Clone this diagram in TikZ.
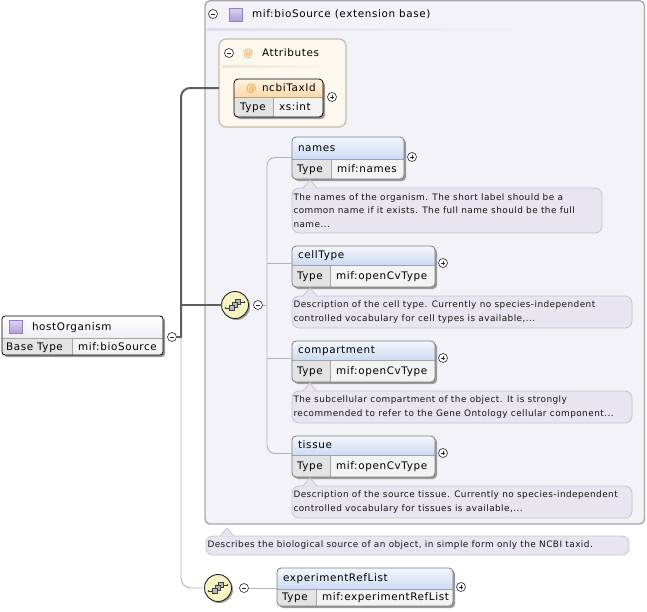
\documentclass[tikz,border=0pt]{standalone}
\usepackage{fontspec}
\setmainfont{DejaVu Sans}
\newfontfamily\uifont{DejaVu Sans}[LetterSpace=6]
\newfontfamily\docfont{DejaVu Sans}[LetterSpace=5]
\usetikzlibrary{fit}

\definecolor{outerfill}{HTML}{F3F2F8}
\definecolor{outerline}{HTML}{A8A8A8}
\definecolor{attrfill}{HTML}{FDF8EE}
\definecolor{attrline}{HTML}{C4BCAE}
\definecolor{hdtop}{HTML}{F4F7FD}
\definecolor{hdbot}{HTML}{CCDBF2}
\definecolor{athdtop}{HTML}{FFF3E2}
\definecolor{athdbot}{HTML}{FCD9A9}
\definecolor{typecell}{HTML}{E3E3E3}
\definecolor{valcell}{HTML}{F3F3F3}
\definecolor{elline}{HTML}{7C7C7C}
\definecolor{shadowc}{HTML}{9A9A9A}
\definecolor{docfill}{HTML}{E8E5F0}
\definecolor{docline}{HTML}{C6C2D4}
\definecolor{seqfill}{HTML}{F8F3C2}
\definecolor{treec}{HTML}{B2B2B2}
\definecolor{trunkc}{HTML}{5E5E5E}
\definecolor{atc}{HTML}{E99A2C}
\definecolor{icontop}{HTML}{DCD3F1}
\definecolor{iconbot}{HTML}{AE9FD8}
\definecolor{iconline}{HTML}{8F80C2}
\definecolor{sepc}{HTML}{E0DEEA}
\definecolor{attrsepc}{HTML}{F0E4CE}
\definecolor{hosthd}{HTML}{EEEDF5}

\tikzset{
  every node/.style={inner sep=0pt, outer sep=0pt},
  txt/.style={anchor=west, font=\uifont\fontsize{10.4}{12}\selectfont, text height=7.5pt, text depth=1.5pt},
  doctxt/.style={anchor=west, align=left, font=\docfont\fontsize{8.9}{13.7}\selectfont, text=black!92},
  elframe/.style={draw=elline, line width=0.8pt, rounded corners=4pt},
  blkframe/.style={draw=black, line width=0.8pt, rounded corners=4pt},
  cellline/.style={draw=elline!70, line width=0.6pt},
  expander/.style={circle, draw=black!85, fill=white, line width=0.6pt, minimum size=9pt},
  exline/.style={line width=0.7pt, black!85},
  docframe/.style={draw=docline, fill=docfill, line width=0.8pt, rounded corners=7pt},
  seqnode/.style={circle, draw=black!85, fill=seqfill, line width=0.9pt, minimum size=27pt},
  treeline/.style={draw=treec, line width=0.9pt},
  trunkline/.style={draw=trunkc, line width=2pt},
  cticon/.style={draw=iconline, top color=icontop, bottom color=iconbot, minimum size=13pt, line width=0.6pt},
  atglyph/.style={txt, text=atc},
  sqglyph/.style={fill=gray!55, draw=black!75, line width=0.5pt},
}

\newcommand\expplus[3]{%
  \node[expander] (#1) at (#2,#3) {};
  \draw[exline] ([xshift=-2.4pt]#1.center) -- ([xshift=2.4pt]#1.center)
                ([yshift=-2.4pt]#1.center) -- ([yshift=2.4pt]#1.center);}
\newcommand\expminus[3]{%
  \node[expander] (#1) at (#2,#3) {};
  \draw[exline] ([xshift=-2.4pt]#1.center) -- ([xshift=2.4pt]#1.center);}

% name, left, top, right, sep, bottom, colsep, title, type
\newcommand\xelem[9]{%
  \fill[shadowc, rounded corners=4pt] (#2+2,#3+2) rectangle (#4+2,#6+2);
  \begin{scope}
    \clip[rounded corners=4pt] (#2,#3) rectangle (#4,#6);
    \shade[top color=hdtop, bottom color=hdbot] (#2,#3) rectangle (#4,#5);
    \fill[typecell] (#2,#5) rectangle (#7,#6);
    \fill[valcell] (#7,#5) rectangle (#4,#6);
  \end{scope}
  \draw[cellline] (#2,#5) -- (#4,#5) (#7,#5) -- (#7,#6);
  \node[elframe, fit={(#2,#3) (#4,#6)}] (#1) {};
  \node[txt] (#1-title) at (#2+6,{(#3+#5)/2}) {#8};
  \node[txt] (#1-tlab) at (#2+5,{(#5+#6)/2}) {Type};
  \node[txt] (#1-type) at (#7+6,{(#5+#6)/2}) {#9};
  \expplus{#1-plus}{#4+8}{#5-2}
  \coordinate (#1-in) at (#2,#5-1.5);
}

% name, left, top, right, bottom, pointer x, text
\newcommand\docbox[7]{%
  \node[docframe, fit={(#2,#3) (#4,#5)}] (#1) {};
  \fill[docfill] (#6-7,#3+0.7) -- (#6,#3-8) -- (#6+7,#3+0.7) -- cycle;
  \draw[docline, line width=0.8pt] (#6-7,#3) -- (#6,#3-8) -- (#6+7,#3);
  \node[doctxt] (#1-text) at (#2+1.5,{(#3+#5)/2}) {#7};
}

\newcommand\seqicon[3]{%
  \fill[shadowc] (#2+1.5,#3+1.5) circle (13.5pt);
  \node[seqnode] (#1) at (#2,#3) {};
  \draw[black!80, line width=0.7pt] (#2-9.5,#3+3) -- (#2-5.5,#3+3) (#2+5.5,#3-3) -- (#2+9.5,#3-3);
  \fill[black!80] (#2-9.5,#3+3) circle (0.9pt) (#2+9.5,#3-3) circle (0.9pt);
  \filldraw[sqglyph] (#2+0.5,#3-5.5) rectangle (#2+5.5,#3-0.5);
  \filldraw[sqglyph] (#2-2.5,#3-2.5) rectangle (#2+2.5,#3+2.5);
  \filldraw[sqglyph] (#2-5.5,#3+0.5) rectangle (#2-0.5,#3+5.5);
}

\begin{document}
\begin{tikzpicture}[x=1pt, y=-1pt]
\useasboundingbox (0,0) rectangle (647,611);

% ---- base type box
\node[draw=outerline, fill=outerfill, line width=1.4pt, rounded corners=5pt, fit={(205,0.7) (644.5,524)}] (base) {};
\expminus{base-minus}{213}{14}
\node[cticon] (base-icon) at (235.5,14.5) {};
\node[txt] (base-title) at (252,14) {mif:bioSource (extension base)};
\shade[left color=sepc, right color=outerfill] (207,28) rectangle (538,30);

% ---- attributes
\node[draw=attrline, fill=attrfill, line width=1.2pt, rounded corners=7pt, fit={(219,39) (346,127)}] (attr) {};
\expminus{attr-minus}{229}{53}
\node[atglyph] (attr-at) at (243,53) {@};
\node[txt] (attr-title) at (262,53) {Attributes};
\shade[left color=attrsepc, right color=attrfill] (222,65) rectangle (330,67);
\coordinate (attr-in) at (219,88);

% ---- ncbiTaxId
\fill[shadowc, rounded corners=4pt] (236,81) rectangle (325,119);
\begin{scope}
  \clip[rounded corners=4pt] (234,79) rectangle (323,117);
  \shade[top color=athdtop, bottom color=athdbot] (234,79) rectangle (323,97);
  \fill[typecell] (234,97) rectangle (273,117);
  \fill[valcell] (273,97) rectangle (323,117);
\end{scope}
\draw[cellline] (234,97) -- (323,97) (273,97) -- (273,117);
\node[blkframe, fit={(234,79) (323,117)}] (ncbi) {};
\node[atglyph] (ncbi-at) at (246,88) {@};
\node[txt] (ncbi-title) at (262,88) {ncbiTaxId};
\node[txt] (ncbi-tlab) at (240,107) {Type};
\node[txt] (ncbi-type) at (279,107) {xs:int};
\expplus{ncbi-plus}{332}{97}

% ---- sequence children
\xelem{names}{292}{137}{404}{159}{179}{331}{names}{mif:names}
\docbox{names-doc}{292}{188}{602}{233}{310}{The names of the organism. The short label should be a\\common name if it exists. The full name should be the full\\name...}
\xelem{cellType}{292}{246}{435}{265}{287}{330}{cellType}{mif:openCvType}
\docbox{cellType-doc}{292}{296}{632}{328}{310}{Description of the cell type. Currently no species-independent\\controlled vocabulary for cell types is available,...}
\xelem{compartment}{292}{341}{435}{360}{382}{330}{compartment}{mif:openCvType}
\docbox{compartment-doc}{292}{391}{632}{423}{310}{The subcellular compartment of the object. It is strongly\\recommended to refer to the Gene Ontology cellular component...}
\xelem{tissue}{292}{436}{435}{455}{477}{330}{tissue}{mif:openCvType}
\docbox{tissue-doc}{292}{486}{632}{518}{310}{Description of the source tissue. Currently no species-independent\\controlled vocabulary for tissues is available,...}

% ---- base documentation
\docbox{base-doc}{206}{536}{629}{555}{227}{Describes the biological source of an object, in simple form only the NCBI taxid.}

% ---- compositors
\seqicon{seq1}{235}{305}
\expminus{seq1-minus}{258}{305}
\seqicon{seq2}{218}{588}
\expminus{seq2-minus}{244}{588}

% ---- experimentRefList
\xelem{exp}{277}{568}{453}{589}{606}{316}{experimentRefList}{mif:experimentRefList}

% ---- hostOrganism
\fill[shadowc, rounded corners=3pt] (4,318) rectangle (165,357);
\begin{scope}
  \clip[rounded corners=3pt] (2,316) rectangle (163,355);
  \shade[top color=white, bottom color=hosthd] (2,316) rectangle (163,338);
  \fill[typecell] (2,338) rectangle (72,355);
  \fill[valcell] (72,338) rectangle (163,355);
\end{scope}
\draw[cellline] (2,338) -- (163,338) (72,338) -- (72,355);
\node[blkframe, rounded corners=3pt, fit={(2,316) (163,355)}] (host) {};
\node[cticon] (host-icon) at (15.5,327) {};
\node[txt] (host-title) at (32,327) {hostOrganism};
\node[txt] (host-tlab) at (6,347) {Base Type};
\node[txt] (host-type) at (78,347) {mif:bioSource};
\expminus{host-minus}{172}{337}

% ---- connectors
\coordinate (trunk-bot) at (181,337);
\coordinate (trunk-top) at (181,88);
\coordinate (trunk-mid) at (181,305);
\coordinate (trunk-end) at (181,588);
\draw[treeline, rounded corners=10pt] (trunk-bot) -- (trunk-end) -- (seq2.west);
\draw[trunkline] (host-minus.east) -- ([xshift=1pt]trunk-bot);
\draw[trunkline, rounded corners=9pt] ([yshift=-1pt]trunk-bot) -- (trunk-top) -- (attr-in);
\draw[trunkline] (trunk-mid) -- (seq1.west);

\coordinate (ctrunk) at (267,305);
\draw[treeline] (seq1-minus.east) -- (ctrunk);
\draw[treeline, rounded corners=8pt] (names-in) -- (ctrunk |- names-in) -- (ctrunk |- tissue-in) -- (tissue-in);
\draw[treeline] (ctrunk |- cellType-in) -- (cellType-in);
\draw[treeline] (ctrunk |- compartment-in) -- (compartment-in);
\draw[treeline] (seq2-minus.east) -- (seq2-minus.east -| exp-in);
\end{tikzpicture}
\end{document}
